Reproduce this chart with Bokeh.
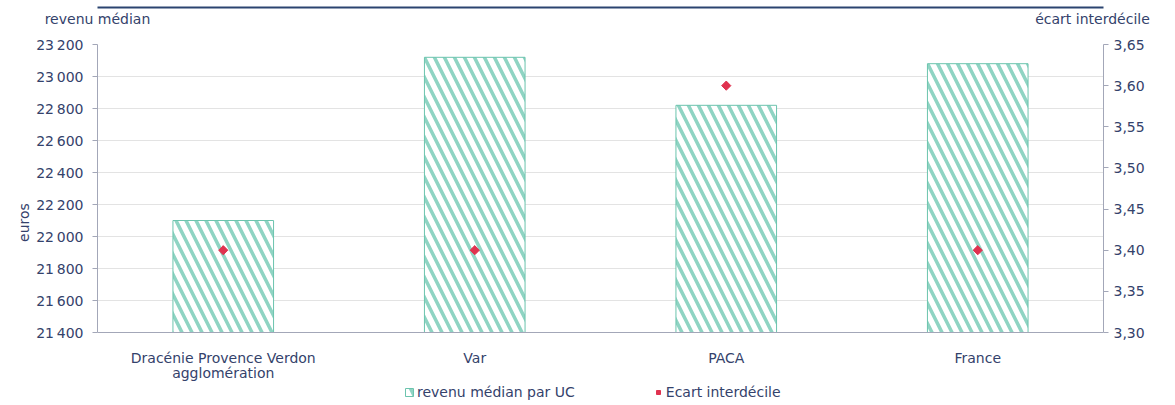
from bokeh.plotting import figure
from bokeh.models import (FactorRange, Range1d, LinearAxis, FixedTicker, CustomJSTickFormatter,
                          ColumnDataSource, Legend, LegendItem)
from bokeh.embed import file_html
from bokeh.resources import INLINE

categories = ["Dracénie Provence Verdon\nagglomération", "Var", "PACA", "France"]
revenu_median = [22100, 23120, 22820, 23080]
ecart_interdecile = [3.40, 3.40, 3.60, 3.40]
left_ticks = [21400, 21600, 21800, 22000, 22200, 22400, 22600, 22800, 23000, 23200]
right_ticks = [3.30, 3.35, 3.40, 3.45, 3.50, 3.55, 3.60, 3.65]
left_title = "revenu médian"
right_title = "écart interdécile"
left_axis_label = "euros"
legend_labels = ["revenu médian par UC", "Ecart interdécile"]

FONT = "DejaVu Sans"
TXT = "#34426b"
AX = "#a3a7b8"
FS = "14px"
TEAL = "#8fd4c3"
TEAL_LINE = "#6cc4ae"
RED = "#e0324f"

W, H = 1167, 400
ML, MR, MT = 97, 64, 44
DATA_H = 288                 # px height of the value area (axis span)
FW = W - ML - MR             # frame width in px
UNIT = FW / len(categories)  # px per category slot
EXTRA = H - MT - DATA_H      # px of frame below the category axis


def slot(page_x):
    """page x (px) -> categorical synthetic coordinate"""
    return (page_x - ML) / UNIT


epp = (left_ticks[-1] - left_ticks[0]) / DATA_H
rpp = (right_ticks[-1] - right_ticks[0]) / DATA_H

src = ColumnDataSource(dict(cat=categories, rev=revenu_median, ecart=ecart_interdecile))

p = figure(width=W, height=H, x_range=FactorRange(*categories, range_padding=0),
           y_range=Range1d(left_ticks[0] - EXTRA * epp, left_ticks[-1]),
           output_backend="svg", toolbar_location=None,
           min_border_left=ML, min_border_right=MR, min_border_top=MT, min_border_bottom=0)
p.outline_line_color = None
p.extra_y_ranges = {"ecart": Range1d(right_ticks[0] - EXTRA * rpp, right_ticks[-1])}

bars = p.vbar(x="cat", top="rev", bottom=left_ticks[0], width=0.40, source=src,
              fill_color="white", line_color=TEAL_LINE, line_width=1,
              hatch_pattern="\\", hatch_color=TEAL, hatch_scale=20, hatch_weight=3.5)
pts = p.scatter(x="cat", y="ecart", y_range_name="ecart", marker="square", angle=0.785398,
                size=6.5, color=RED, source=src)

# left axis
ya = p.yaxis[0]
ya.ticker = FixedTicker(ticks=left_ticks)
ya.bounds = (left_ticks[0], left_ticks[-1])
ya.formatter = CustomJSTickFormatter(code="return tick.toString().replace(/\\B(?=(\\d{3})+(?!\\d))/g, '\\u202f');")
ya.axis_label = left_axis_label
ya.axis_label_text_font_style = "normal"
ya.axis_label_standoff = 1

ra = LinearAxis(y_range_name="ecart", ticker=FixedTicker(ticks=right_ticks),
                bounds=(right_ticks[0], right_ticks[-1]),
                formatter=CustomJSTickFormatter(code="return tick.toFixed(2).replace('.', ',');"))
p.add_layout(ra, "right")

xa = p.xaxis[0]
xa.fixed_location = left_ticks[0]

for ax in [ya, ra, xa]:
    ax.axis_line_color = AX
    ax.major_tick_line_color = AX
    ax.minor_tick_line_color = None
    ax.major_tick_out = 5
    ax.major_tick_in = 0
    ax.major_label_text_font = FONT
    ax.major_label_text_font_size = FS
    ax.major_label_text_color = TXT
    ax.axis_label_text_font = FONT
    ax.axis_label_text_font_size = FS
    ax.axis_label_text_color = TXT
ya.major_label_standoff = 9
xa.major_tick_line_color = None
xa.major_label_standoff = 12
xa.major_label_text_line_height = 0.95

p.xgrid.grid_line_color = None
p.ygrid.grid_line_color = "#e3e3e3"
p.ygrid.ticker = FixedTicker(ticks=left_ticks)

# titles of both value axes, on one line above the chart
titles = LinearAxis(ticker=FixedTicker(ticks=[0.0, slot(1092)]),
                    major_label_overrides={0.0: left_title, slot(1092): right_title},
                    axis_line_color=None, major_tick_line_color=None, minor_tick_line_color=None,
                    major_tick_out=0, major_tick_in=0, major_label_standoff=18,
                    major_label_text_font=FONT, major_label_text_font_size=FS,
                    major_label_text_color=TXT)
p.add_layout(titles, "above")

# dark rule at the top
rule = LinearAxis(ticker=FixedTicker(ticks=[]), axis_line_color="#2b4470", axis_line_width=2,
                  major_tick_line_color=None, minor_tick_line_color=None,
                  major_tick_out=0, major_tick_in=0, major_label_standoff=0)
p.add_layout(rule, "above")

legend = Legend(items=[LegendItem(label=legend_labels[0], renderers=[bars]),
                       LegendItem(label=legend_labels[1], renderers=[pts])],
                orientation="horizontal", location=(slot(404) * UNIT, 0),
                label_text_font=FONT, label_text_font_size=FS, label_text_color=TXT,
                glyph_width=10, glyph_height=10, label_height=14, label_standoff=3, spacing=78,
                border_line_color=None, background_fill_alpha=0, padding=0, margin=0)
p.add_layout(legend, "center")

open("out.html", "w").write(file_html(p, INLINE))
